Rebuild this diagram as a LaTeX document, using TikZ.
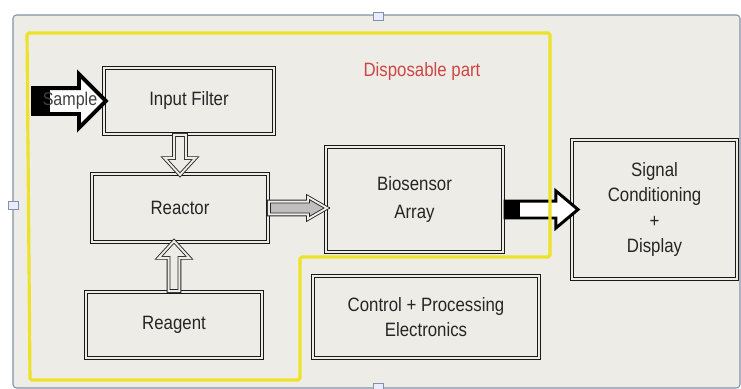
\documentclass[tikz,border=0pt]{standalone}
\usepackage{fontspec}
\setmainfont{Liberation Sans}[FakeStretch=0.87]
\usetikzlibrary{shapes.arrows}
\definecolor{paper}{RGB}{238,236,230}
\definecolor{frameblue}{RGB}{128,146,168}
\definecolor{marker}{RGB}{236,226,40}
\definecolor{dispred}{RGB}{206,70,70}
\tikzset{
  box/.style={draw=black!90, double=paper, double distance=1.5pt, line width=0.6pt,
    fill=paper, align=center, text=black!85, font=\fontsize{11}{14.5}\selectfont},
  fatarrow/.style={single arrow, fill=paper, draw=black!85, double=paper,
    double distance=1.1pt, line width=0.5pt, inner xsep=0pt, minimum width=0pt,
    sloped, allow upside down, pos=0, anchor=tail},
  solidarrow/.style={single arrow, fill=white, draw=black, inner xsep=0pt,
    minimum width=0pt, sloped, allow upside down, pos=0, anchor=tail},
  blacktail/.style={path picture={\fill[black] (path picture bounding box.south west)
    rectangle ([xshift=#1]path picture bounding box.north west);}},
}
\begin{document}
\begin{tikzpicture}[x=0.02cm, y=-0.02cm]
\useasboundingbox (0,0) rectangle (741,389);
\fill[white] (0,0) rectangle (741,389);
\filldraw[fill=paper, draw=frameblue, line width=0.6pt, rounded corners=2pt] (13,15) rectangle (740,388);
\foreach \p in {(378,16),(13,205),(378,387)}
  \filldraw[fill=blue!8, draw=frameblue, line width=0.4pt] \p ++(-5,-4) rectangle ++(10,8);

% blocks
\node[box, minimum width=3.4cm, minimum height=1.32cm] (filter) at (189,101) {Input Filter};
\node[box, minimum width=3.52cm, minimum height=1.36cm] (reactor) at (180,208) {Reactor};
\node[box, minimum width=3.52cm, minimum height=1.32cm] (reagent) at (174,325) {Reagent};
\node[box, minimum width=3.54cm, minimum height=2.1cm] (bio) at (414.5,199.5) {Biosensor\\[1.5pt]Array};
\node[box, minimum width=3.3cm, minimum height=2.78cm] (signal) at (654.5,209.5) {Signal\\Conditioning\\+\\Display};
\node[box, minimum width=4.52cm, minimum height=1.64cm] (control) at (426,317) {Control + Processing\\Electronics};
\node[text=dispred, font=\fontsize{11}{13}\selectfont] (disp) at (422,72) {Disposable part};

% arrows
\coordinate (samplein) at (31,101);
\path (samplein) -- node[solidarrow, line width=2.2pt, inner ysep=0.22cm,
  single arrow head extend=0.28cm, minimum height=1.46cm, blacktail=0.34cm] (samplearr) {} (filter.west);
\node[text=black!75, font=\fontsize{10.5}{12}\selectfont] (samplelbl) at (70,101) {Sample};
\path (filter.south -| reactor) -- node[fatarrow, inner ysep=0.11cm, single arrow head extend=0.19cm,
  single arrow tip angle=85, minimum height=0.8cm] (filtarr) {} (reactor.north);
\path (reagent.north) -- node[fatarrow, inner ysep=0.1cm, single arrow head extend=0.2cm,
  single arrow tip angle=85, minimum height=1.0cm] (reagarr) {} (reagent.north |- reactor.south);
\path (reactor.east) -- node[fatarrow, fill=black!25, inner ysep=0.12cm, single arrow head extend=0.09cm,
  single arrow tip angle=60, minimum height=1.16cm] (reacarr) {} (reactor.east -| bio.west);
\path (bio.east |- signal.west) -- node[solidarrow, line width=1.7pt, inner ysep=0.14cm,
  single arrow head extend=0.2cm, single arrow tip angle=80, minimum height=1.46cm,
  blacktail=0.3cm] (bioarr) {} (signal.west);

% disposable part outline
\draw[marker, line width=1.8pt, rounded corners=1pt] (27,33) -- (550,33) -- (550,257)
  -- (300,257) -- (300,380) -- (30,380) -- cycle;
\end{tikzpicture}
\end{document}
